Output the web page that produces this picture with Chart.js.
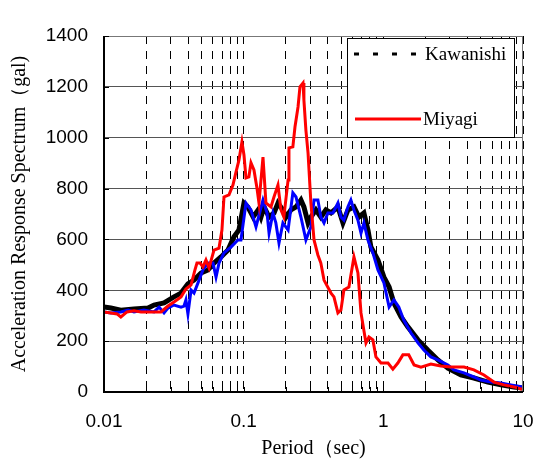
<!DOCTYPE html>
<html>
<head>
<meta charset="utf-8">
<title>Acceleration Response Spectrum</title>
<script src="https://cdn.jsdelivr.net/npm/chart.js@4.4.1/dist/chart.umd.min.js"></script>
<style>
  html, body { margin: 0; padding: 0; background: #fff; }
  #wrap { width: 537px; height: 470px; position: relative; }
</style>
</head>
<body>
<div id="wrap"><canvas id="spectrumChart"></canvas></div>
<script>
// period (sec) / acceleration (gal)
const kawanishiPeriod = [0.0100, 0.0112, 0.0132, 0.0164, 0.0207, 0.0228, 0.0269, 0.0317, 0.0356, 0.0399,
  0.0441, 0.0495, 0.0555, 0.0613, 0.0688, 0.0772, 0.0852, 0.0925, 0.1005, 0.107,
  0.117, 0.127, 0.133, 0.140, 0.152, 0.165, 0.176, 0.191, 0.201, 0.218,
  0.237, 0.257, 0.270, 0.289, 0.303, 0.329, 0.357, 0.388, 0.422, 0.473,
  0.514, 0.558, 0.616, 0.669, 0.726, 0.776, 0.815, 0.915, 1.01, 1.10,
  1.19, 1.34, 1.50, 1.77, 2.08, 2.46, 2.90, 3.59, 4.45, 5.61,
  6.95, 8.61, 10];
const kawanishiAccel = [334, 330, 322, 326, 330, 342, 350, 374, 389, 425,
  440, 468, 480, 507, 531, 558, 610, 637, 743, 728,
  688, 716, 688, 728, 688, 704, 743, 716, 688, 716,
  728, 755, 728, 665, 688, 716, 688, 716, 704, 728,
  665, 716, 728, 688, 704, 637, 570, 519, 452, 413,
  350, 295, 256, 205, 165, 126, 94, 67, 55, 39,
  28, 20, 16];

const miyagiPeriod = [0.0100, 0.0112, 0.0124, 0.0132, 0.0146, 0.0164, 0.0184, 0.0217, 0.0256, 0.0287,
  0.0317, 0.0356, 0.0386, 0.0420, 0.0448, 0.0463, 0.0487, 0.0511, 0.0537, 0.0565,
  0.0613, 0.0666, 0.0699, 0.0723, 0.0785, 0.0838, 0.0881, 0.0925, 0.0972, 0.1005,
  0.1039, 0.109, 0.1128, 0.1185, 0.1245, 0.1287, 0.1375, 0.1444, 0.1568, 0.1648,
  0.176, 0.185, 0.194, 0.208, 0.211, 0.225, 0.233, 0.245, 0.253, 0.266,
  0.270, 0.279, 0.289, 0.303, 0.319, 0.340, 0.357, 0.376, 0.422, 0.443,
  0.473, 0.497, 0.522, 0.567, 0.616, 0.658, 0.692, 0.751, 0.789, 0.842,
  0.885, 0.962, 1.08, 1.17, 1.27, 1.38, 1.52, 1.66, 1.86, 2.19,
  2.58, 3.05, 3.78, 4.45, 5.25, 6.19, 7.30, 8.61, 9.66, 10];
const miyagiAccel = [315, 311, 307, 295, 315, 319, 315, 315, 315, 338,
  354, 374, 405, 421, 480, 507, 507, 492, 519, 488,
  558, 566, 637, 767, 775, 814, 865, 912, 983, 932,
  842, 846, 901, 873, 802, 743, 924, 743, 728, 767,
  814, 716, 688, 834, 960, 964, 1042, 1121, 1200, 1215,
  1148, 1030, 940, 743, 598, 539, 507, 440, 389, 374,
  311, 322, 401, 413, 531, 468, 311, 193, 216, 205,
  138, 114, 114, 90, 114, 146, 146, 106, 98, 110,
  102, 98, 98, 87, 67, 39, 28, 20, 12, 12];

// blue record (no legend entry visible in the figure)
const thirdPeriod = [0.0100, 0.0112, 0.0132, 0.0149, 0.0164, 0.0193, 0.0228, 0.0248, 0.0269, 0.0287,
  0.0317, 0.0356, 0.0374, 0.0386, 0.0399, 0.0420, 0.0441, 0.0471, 0.0511, 0.0555,
  0.0603, 0.0634, 0.0666, 0.0723, 0.0811, 0.091, 0.0956, 0.1039, 0.1128, 0.1225,
  0.1375, 0.147, 0.152, 0.162, 0.170, 0.179, 0.191, 0.208, 0.225, 0.237,
  0.257, 0.279, 0.303, 0.319, 0.340, 0.357, 0.376, 0.401, 0.436, 0.473,
  0.497, 0.522, 0.558, 0.586, 0.616, 0.658, 0.692, 0.726, 0.776, 0.842,
  0.915, 1.01, 1.10, 1.19, 1.29, 1.40, 1.58, 1.77, 1.95, 2.19,
  2.46, 2.90, 3.20, 3.78, 4.45, 4.99, 5.89, 6.95, 8.2, 10];
const thirdAccel = [315, 311, 315, 322, 315, 322, 315, 334, 311, 330,
  342, 334, 338, 362, 307, 401, 389, 429, 480, 507,
  507, 452, 507, 547, 570, 598, 598, 743, 716, 649,
  755, 704, 625, 704, 665, 586, 665, 637, 783, 767,
  688, 598, 649, 755, 755, 688, 665, 704, 704, 743,
  688, 676, 728, 755, 716, 676, 625, 665, 598, 547,
  480, 429, 334, 362, 334, 283, 232, 193, 165, 138,
  126, 106, 87, 75, 59, 47, 39, 35, 28, 20];

const seriesNames = ['Kawanishi', 'Miyagi'];
const xTickValues = [0.01, 0.1, 1, 10];
const xTickLabels = ['0.01', '0.1', '1', '10'];
const yTickStep = 200;
const yMax = 1400;

// grid lines at 1..9 x each decade
const gridPeriods = [];
[0.01, 0.1, 1].forEach(dec => {
  for (let m = 1; m <= 9; m++) gridPeriods.push(m * dec);
});
gridPeriods.push(10);

function toPoints(periods, values) {
  return periods.map((p, i) => ({ x: p, y: values[i] }));
}

const frameAndLegend = {
  id: 'frameAndLegend',
  afterDatasetsDraw(chart) {
    const { ctx, chartArea: a, scales } = chart;
    ctx.save();

    // plot frame
    ctx.setLineDash([]);
    ctx.strokeStyle = '#777';
    ctx.lineWidth = 1;
    ctx.strokeRect(a.left + 0.5, a.top + 0.5, a.right - a.left - 1, a.bottom - a.top);
    ctx.strokeStyle = '#000';
    ctx.lineWidth = 2;
    ctx.beginPath();
    ctx.moveTo(a.left, a.top);
    ctx.lineTo(a.left, a.bottom);
    ctx.lineTo(a.right, a.bottom);
    ctx.stroke();

    // small inside ticks
    ctx.lineWidth = 1;
    ctx.beginPath();
    scales.x.ticks.forEach(t => {
      const px = Math.round(scales.x.getPixelForValue(t.value)) + 0.5;
      ctx.moveTo(px, a.bottom);
      ctx.lineTo(px, a.bottom - 5);
    });
    scales.y.ticks.forEach(t => {
      const py = Math.round(scales.y.getPixelForValue(t.value)) + 0.5;
      ctx.moveTo(a.left, py);
      ctx.lineTo(a.left + 5, py);
    });
    ctx.stroke();

    // legend box
    ctx.fillStyle = '#fff';
    ctx.fillRect(347, 38, 167, 99);
    ctx.strokeStyle = '#000';
    ctx.strokeRect(347.5, 38.5, 167, 99);

    ctx.lineWidth = 3;
    ctx.setLineDash([5, 14]);
    ctx.beginPath();
    ctx.moveTo(354, 54);
    ctx.lineTo(422, 54);
    ctx.stroke();

    ctx.setLineDash([]);
    ctx.strokeStyle = '#ff0000';
    ctx.beginPath();
    ctx.moveTo(355, 119);
    ctx.lineTo(421, 119);
    ctx.stroke();

    ctx.fillStyle = '#000';
    ctx.font = '19px "Liberation Serif", "Times New Roman", serif';
    ctx.textBaseline = 'alphabetic';
    ctx.textAlign = 'left';
    ctx.fillText(seriesNames[0], 425, 60);
    ctx.fillText(seriesNames[1], 423, 125);

    ctx.restore();
  }
};

const tickFont = { family: '"Liberation Sans", Arial, sans-serif', size: 19 };
const titleFont = { family: '"Liberation Serif", "Times New Roman", serif', size: 20 };

new Chart(document.getElementById('spectrumChart'), {
  type: 'line',
  data: {
    datasets: [
      {
        label: seriesNames[1],
        data: toPoints(miyagiPeriod, miyagiAccel),
        borderColor: '#ff0000',
        borderWidth: 3,
        pointRadius: 0,
        tension: 0,
        order: 1
      },
      {
        label: '',
        data: toPoints(thirdPeriod, thirdAccel),
        borderColor: '#0000ff',
        borderWidth: 3,
        pointRadius: 0,
        tension: 0,
        order: 2
      },
      {
        label: seriesNames[0],
        data: toPoints(kawanishiPeriod, kawanishiAccel),
        borderColor: '#000000',
        borderWidth: 5,
        pointRadius: 0,
        tension: 0,
        order: 3
      }
    ]
  },
  options: {
    responsive: true,
    maintainAspectRatio: false,
    animation: false,
    layout: { padding: { left: 0, top: 36, right: 14, bottom: 0 } },
    plugins: {
      legend: { display: false },
      tooltip: { enabled: false }
    },
    scales: {
      x: {
        type: 'logarithmic',
        min: 0.01,
        max: 10,
        afterBuildTicks: (scale) => {
          scale.ticks = gridPeriods.map(v => ({ value: v }));
        },
        afterFit: (scale) => {
          scale.height = 78;
          scale.paddingLeft = 0;
          scale.paddingRight = 0;
        },
        ticks: {
          autoSkip: false,
          maxRotation: 0,
          padding: 18,
          color: '#000',
          font: tickFont,
          callback: (value) => {
            const i = xTickValues.findIndex(t => Math.abs(Math.log10(t) - Math.log10(value)) < 1e-6);
            return i >= 0 ? xTickLabels[i] : '';
          }
        },
        grid: { color: '#000', lineWidth: 1, drawTicks: false },
        border: { display: false, dash: [8, 7] },
        title: {
          display: true,
          text: 'Period（sec)',
          color: '#000',
          font: titleFont,
          padding: { top: 0, bottom: 9 }
        }
      },
      y: {
        type: 'linear',
        min: 0,
        max: yMax,
        afterFit: (scale) => { scale.width = 104; },
        ticks: {
          stepSize: yTickStep,
          padding: 16,
          color: '#000',
          font: tickFont,
          callback: (value) => String(value)
        },
        grid: { color: '#555', lineWidth: 1, drawTicks: false },
        border: { display: false },
        title: {
          display: true,
          text: 'Acceleration Response Spectrum（gal)',
          color: '#000',
          font: titleFont,
          padding: { top: 8, bottom: 0 }
        }
      }
    }
  },
  plugins: [frameAndLegend]
});
</script>
</body>
</html>
